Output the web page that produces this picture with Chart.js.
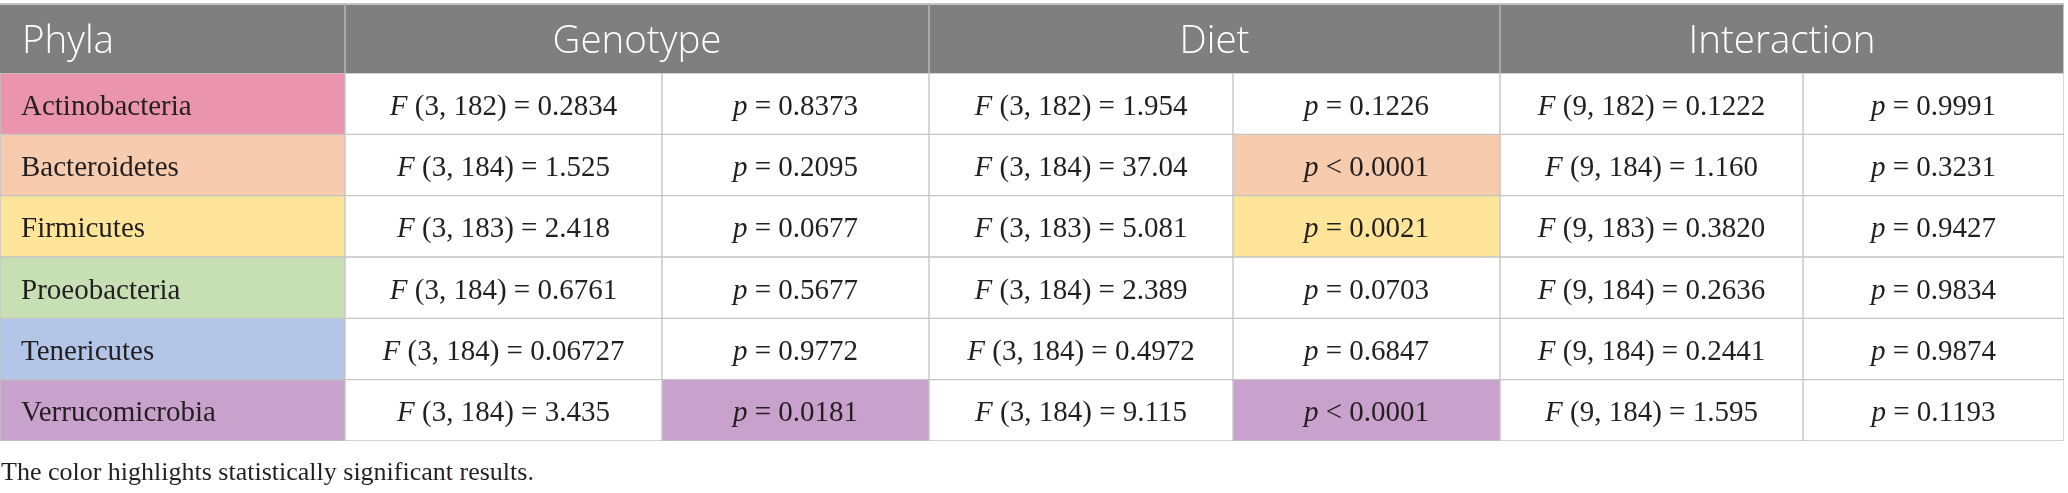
<!DOCTYPE html>
<html lang="en">
<head>
	<meta charset="UTF-8">
	<title>Phyla ANOVA table</title>
	<script src="https://cdn.jsdelivr.net/npm/chart.js"></script>
	<style>
		html, body { margin: 0; padding: 0; background: #ffffff; }
		#wrap { width: 2068px; height: 493px; position: relative; }
	</style>
</head>
<body>
	<div id="wrap"><canvas id="tbl"></canvas></div>
	<script>
		const phyla = ['Actinobacteria', 'Bacteroidetes', 'Firmicutes', 'Proeobacteria', 'Tenericutes', 'Verrucomicrobia'];
		const groups = ['Genotype', 'Diet', 'Interaction'];
		const numDf = [3, 3, 9];
		const denDf = [182, 184, 183, 184, 184, 184];

		const genotypeF = ['0.2834', '1.525', '2.418', '0.6761', '0.06727', '3.435'];
		const genotypeP = ['= 0.8373', '= 0.2095', '= 0.0677', '= 0.5677', '= 0.9772', '= 0.0181'];
		const dietF = ['1.954', '37.04', '5.081', '2.389', '0.4972', '9.115'];
		const dietP = ['= 0.1226', '< 0.0001', '= 0.0021', '= 0.0703', '= 0.6847', '< 0.0001'];
		const interactionF = ['0.1222', '1.160', '0.3820', '0.2636', '0.2441', '1.595'];
		const interactionP = ['= 0.9991', '= 0.3231', '= 0.9427', '= 0.9834', '= 0.9874', '= 0.1193'];

		const footnote = 'The color highlights statistically significant results.';

		// --- layout / style ---
		const colWidths = [345, 317, 267, 304, 267, 303, 261];
		const phylaColors = ['#eb94ae', '#f7cbad', '#fee59a', '#c6e0b4', '#b4c6e7', '#c8a2cc'];
		const lineColor = '#c4c4c4';
		const headColor = '#7f7f7f';
		const textColor = '#231f20';
		const serif = '"Liberation Serif", "Times New Roman", serif';
		const sans = '"Open Sans", "Noto Sans", sans-serif';

		const fCols = [genotypeF, dietF, interactionF];
		const pCols = [genotypeP, dietP, interactionP];

		const edges = [0];
		colWidths.forEach(w => edges.push(edges[edges.length - 1] + w));
		const tableRight = edges[edges.length - 1];

		const isSig = s => parseFloat(s.replace(/[<=]/g, '')) < 0.05;

		const datasets = [];
		for (let c = 0; c < colWidths.length; c++) {
			let bg;
			if (c === 0) bg = phylaColors;
			else if (c % 2 === 0) bg = pCols[c / 2 - 1].map((s, i) => isSig(s) ? phylaColors[i] : '#ffffff');
			else bg = phyla.map(() => '#ffffff');
			datasets.push({
				data: phyla.map(() => [edges[c], edges[c + 1]]),
				backgroundColor: bg,
				borderColor: lineColor,
				borderWidth: 1,
				borderSkipped: false
			});
		}

		function cellParts(c, r) {
			if (c === 0) return [{ t: phyla[r] }];
			const g = Math.floor((c - 1) / 2);
			if (c % 2 === 1) return [{ t: 'F', it: true }, { t: ' (' + numDf[g] + ', ' + denDf[r] + ') = ' + fCols[g][r] }];
			return [{ t: 'p', it: true }, { t: ' ' + pCols[g][r] }];
		}

		function drawParts(ctx, parts, x, y, size, align) {
			let total = 0;
			parts.forEach(p => {
				ctx.font = (p.it ? 'italic ' : '') + size + 'px ' + serif;
				p.w = ctx.measureText(p.t).width;
				total += p.w;
			});
			let cx = align === 'left' ? x : x - total / 2;
			parts.forEach(p => {
				ctx.font = (p.it ? 'italic ' : '') + size + 'px ' + serif;
				ctx.fillText(p.t, cx, y);
				cx += p.w;
			});
		}

		const tablePlugin = {
			id: 'tablePlugin',
			afterDatasetsDraw(chart) {
				const ctx = chart.ctx;
				const xs = chart.scales.x;
				const area = chart.chartArea;
				ctx.save();
				ctx.textAlign = 'left';
				ctx.textBaseline = 'alphabetic';
				ctx.fillStyle = textColor;
				chart.data.datasets.forEach((ds, c) => {
					chart.getDatasetMeta(c).data.forEach((bar, r) => {
						const pt = bar.getCenterPoint();
						if (c === 0) {
							drawParts(ctx, cellParts(c, r), xs.getPixelForValue(edges[0]) + 21, pt.y + 11, 29, 'left');
						} else {
							drawParts(ctx, cellParts(c, r), pt.x, pt.y + 11, 29, 'center');
						}
					});
				});

				// header row
				const top = 4;
				const x0 = xs.getPixelForValue(0);
				const x1 = xs.getPixelForValue(tableRight);
				ctx.fillStyle = headColor;
				ctx.fillRect(x0, top, x1 - x0, area.top - top);
				ctx.fillStyle = lineColor;
				ctx.fillRect(x0, top - 1, x1 - x0, 2);
				ctx.fillStyle = '#a9a9a9';
				[edges[1], edges[3], edges[5]].forEach(e => {
					ctx.fillRect(xs.getPixelForValue(e) - 1, top, 2, area.top - top);
				});
				ctx.fillStyle = lineColor;
				ctx.fillRect(x1 - 1, top, 1, area.top - top);

				ctx.fillStyle = '#ffffff';
				ctx.font = '300 38.5px ' + sans;
				const hy = 53;
				ctx.textAlign = 'left';
				ctx.fillText('Phyla', x0 + 22, hy);
				ctx.textAlign = 'center';
				groups.forEach((g, i) => {
					const a = xs.getPixelForValue(edges[1 + i * 2]);
					const b = xs.getPixelForValue(edges[3 + i * 2]);
					ctx.fillText(g, (a + b) / 2, hy);
				});

				// footnote
				ctx.textAlign = 'left';
				ctx.fillStyle = textColor;
				ctx.font = '26px ' + serif;
				ctx.fillText(footnote, x0 + 1, 480);
				ctx.restore();
			}
		};

		window.onload = function () {
			const ctx = document.getElementById('tbl').getContext('2d');
			new Chart(ctx, {
				type: 'bar',
				data: { labels: phyla, datasets: datasets },
				options: {
					indexAxis: 'y',
					responsive: true,
					maintainAspectRatio: false,
					animation: false,
					events: [],
					grouped: false,
					categoryPercentage: 1,
					barPercentage: 1,
					layout: { padding: { top: 73, bottom: 52, left: 0, right: 2068 - tableRight } },
					plugins: { legend: { display: false }, tooltip: { enabled: false } },
					scales: {
						x: { type: 'linear', min: 0, max: tableRight, display: false },
						y: { type: 'category', display: false, offset: true }
					}
				},
				plugins: [tablePlugin]
			});
		};
	</script>
</body>
</html>
